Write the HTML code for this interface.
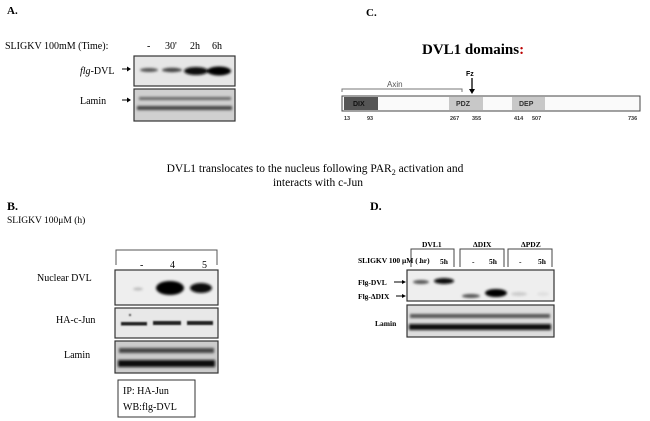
<!DOCTYPE html>
<html><head><meta charset="utf-8"><style>
html,body{margin:0;padding:0;background:#fff;}
svg{display:block;font-family:"Liberation Serif",serif;}
</style></head><body>
<svg width="650" height="421" viewBox="0 0 650 421" xmlns="http://www.w3.org/2000/svg">
<defs>
<filter id="b1" x="-50%" y="-100%" width="200%" height="300%"><feGaussianBlur stdDeviation="1.3"/></filter>
<filter id="b2" x="-50%" y="-100%" width="200%" height="300%"><feGaussianBlur stdDeviation="0.8"/></filter>
</defs>
<!-- Panel A -->
<text x="7" y="14" font-size="11" font-weight="bold">A.</text>
<text x="5" y="49" font-size="10">SLIGKV 100mM  (Time):</text>
<text x="147" y="49" font-size="10">-</text>
<text x="165" y="49" font-size="10">30'</text>
<text x="190" y="49" font-size="10">2h</text>
<text x="212" y="49" font-size="10">6h</text>
<rect x="134" y="56" width="101" height="30" fill="#e6e6e6" stroke="#333" stroke-width="1.2"/>
<g filter="url(#b1)" fill="#333">
<ellipse cx="149" cy="70" rx="9" ry="2" fill="#555"/>
<ellipse cx="172" cy="70" rx="10" ry="2.2" fill="#444"/>
<ellipse cx="196" cy="71" rx="12" ry="4" fill="#111"/>
<ellipse cx="219" cy="71" rx="12" ry="4.5" fill="#000"/>
</g>
<rect x="134" y="89" width="101" height="32" fill="#d0d0d0" stroke="#333" stroke-width="1.2"/>
<g filter="url(#b1)">
<rect x="139" y="97" width="92" height="3" fill="#666"/>
<rect x="137" y="106" width="95" height="4" fill="#444"/>
</g>
<text x="80" y="74" font-size="10"><tspan font-style="italic">flg</tspan>-DVL</text>
<text x="80" y="104" font-size="10">Lamin</text>
<line x1="122" y1="69" x2="130" y2="69" stroke="#000"/><path d="M131,69 l-4,-2.5 v5z"/>
<line x1="122" y1="100" x2="130" y2="100" stroke="#000"/><path d="M131,100 l-4,-2.5 v5z"/>

<!-- Panel C -->
<text x="366" y="16" font-size="11" font-weight="bold">C.</text>
<text x="422" y="54" font-size="15" font-weight="bold">DVL1 domains<tspan fill="#b00">:</tspan></text>
<path d="M342,92 v-3 h120 v3" fill="none" stroke="#777"/>
<text x="387" y="87" font-size="8" font-family="Liberation Sans,sans-serif" fill="#555">Axin</text>
<text x="466" y="76" font-size="7" font-weight="bold" font-family="Liberation Sans,sans-serif">Fz</text>
<line x1="472" y1="78" x2="472" y2="90" stroke="#000" stroke-width="1.3"/><path d="M472,94 l-3,-5 h6z"/>
<rect x="342" y="96" width="298" height="15" fill="#fafafa" stroke="#444"/>
<rect x="344" y="97" width="34" height="13" fill="#555"/>
<rect x="449" y="97" width="34" height="13" fill="#c8c8c8"/>
<rect x="512" y="97" width="33" height="13" fill="#c8c8c8"/>
<g font-family="Liberation Sans,sans-serif" font-weight="bold" font-size="7">
<text x="353" y="106" fill="#111">DIX</text>
<text x="456" y="106" fill="#333">PDZ</text>
<text x="519" y="106" fill="#333">DEP</text>
<g font-size="5.5" fill="#333">
<text x="344" y="120">13</text><text x="367" y="120">93</text>
<text x="450" y="120">267</text><text x="472" y="120">355</text>
<text x="514" y="120">414</text><text x="532" y="120">507</text>
<text x="628" y="120">736</text></g>
</g>

<!-- Title -->
<text x="315" y="172" font-size="11.5" text-anchor="middle">DVL1 translocates to the  nucleus following PAR<tspan font-size="8" dy="3">2</tspan><tspan dy="-3"> activation and</tspan></text>
<text x="318" y="186" font-size="11.5" text-anchor="middle">interacts with c-Jun</text>

<!-- Panel B -->
<text x="7" y="210" font-size="12" font-weight="bold">B.</text>
<text x="7" y="223" font-size="9.5">SLIGKV 100μM (h)</text>
<path d="M116,265 v-15 h101 v15" fill="none" stroke="#555"/>
<text x="140" y="268" font-size="10">-</text>
<text x="170" y="268" font-size="10">4</text>
<text x="202" y="268" font-size="10">5</text>
<rect x="115" y="270" width="103" height="35" fill="#eee" stroke="#333" stroke-width="1.2"/>
<g filter="url(#b1)">
<ellipse cx="138" cy="289" rx="5" ry="1.5" fill="#bbb"/>
<ellipse cx="170" cy="288" rx="14" ry="7" fill="#000"/>
<ellipse cx="201" cy="288" rx="11" ry="5" fill="#111"/>
</g>
<rect x="115" y="308" width="103" height="30" fill="#e8e8e8" stroke="#333" stroke-width="1.2"/>
<g filter="url(#b2)" fill="#222">
<rect x="121" y="322" width="26" height="3.5"/><rect x="153" y="321" width="28" height="4"/><rect x="187" y="321" width="26" height="4"/>
<circle cx="130" cy="315" r="1"/>
</g>
<rect x="115" y="341" width="103" height="32" fill="#ccc" stroke="#333" stroke-width="1.2"/>
<g filter="url(#b1)" fill="#111">
<rect x="119" y="348" width="95" height="5" fill="#444"/>
<rect x="118" y="360" width="97" height="7"/>
</g>
<text x="37" y="281" font-size="10">Nuclear DVL</text>
<text x="56" y="323" font-size="10">HA-c-Jun</text>
<text x="64" y="358" font-size="10">Lamin</text>
<rect x="118" y="380" width="77" height="37" fill="#fff" stroke="#333"/>
<text x="123" y="394" font-size="10">IP: HA-Jun</text>
<text x="123" y="410" font-size="10">WB:flg-DVL</text>

<!-- Panel D -->
<text x="370" y="210" font-size="12" font-weight="bold">D.</text>
<g font-size="7.5" font-weight="bold">
<text x="422" y="247">DVL1</text><text x="473" y="247">ΔDIX</text><text x="521" y="247">ΔPDZ</text>
<text x="358" y="263">SLIGKV 100 μM ( hr)</text>
<text x="419" y="264">-</text><text x="440" y="264">5h</text>
<text x="472" y="264">-</text><text x="489" y="264">5h</text>
<text x="519" y="264">-</text><text x="538" y="264">5h</text>
<text x="358" y="285">Flg-DVL</text>
<text x="358" y="299">Flg-ΔDIX</text>
<text x="375" y="326">Lamin</text>
</g>
<path d="M411,267 v-18 h43 v18 M460,267 v-18 h44 v18 M508,267 v-18 h44 v18" fill="none" stroke="#444"/>
<line x1="394" y1="282" x2="404" y2="282" stroke="#000"/><path d="M406,282 l-4,-2 v4z"/>
<line x1="396" y1="296" x2="404" y2="296" stroke="#000"/><path d="M406,296 l-4,-2 v4z"/>
<rect x="407" y="270" width="147" height="31" fill="#eee" stroke="#333" stroke-width="1.2"/>
<g filter="url(#b1)">
<ellipse cx="421" cy="282" rx="8" ry="2" fill="#555"/>
<ellipse cx="444" cy="281" rx="10" ry="3" fill="#111"/>
<ellipse cx="471" cy="296" rx="9" ry="2" fill="#555"/>
<ellipse cx="496" cy="293" rx="11" ry="4" fill="#000"/>
<ellipse cx="519" cy="294" rx="8" ry="2" fill="#ccc"/>
<ellipse cx="543" cy="294" rx="6" ry="2" fill="#e0e0e0"/>
</g>
<rect x="407" y="305" width="147" height="32" fill="#ddd" stroke="#333" stroke-width="1.2"/>
<g filter="url(#b1)">
<rect x="410" y="314" width="140" height="4" fill="#555"/>
<rect x="409" y="324" width="142" height="6" fill="#111"/>
</g>
</svg>
</body></html>
